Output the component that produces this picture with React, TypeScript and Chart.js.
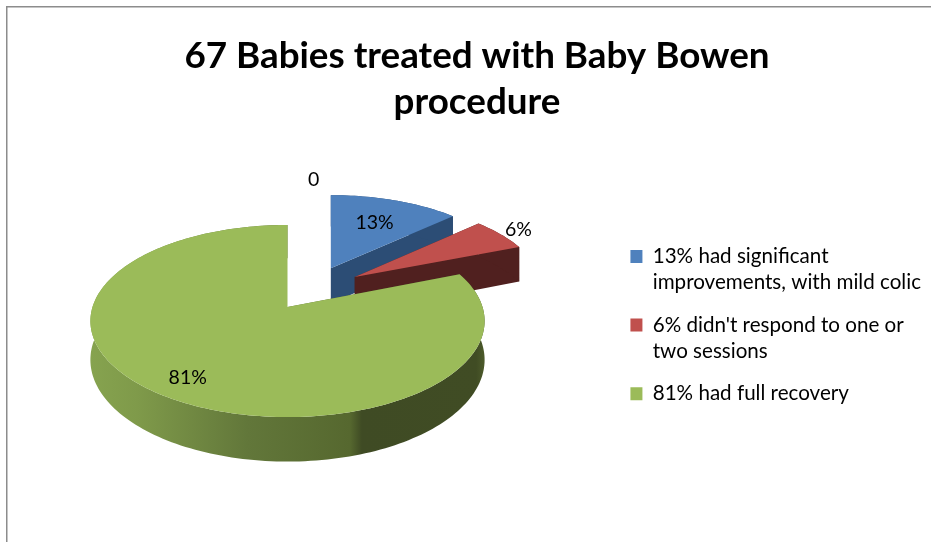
import React, { useEffect, useRef } from "react";
import { Chart, registerables } from "chart.js";

Chart.register(...registerables);

const titleLines = ["67 Babies treated with Baby Bowen", "procedure"];
const categories = ["", "13% had significant improvements, with mild colic", "6% didn't respond to one or two sessions", "81% had full recovery"];
const legendLines = [[""], ["13% had significant", "improvements, with mild colic"], ["6% didn't respond to one or", "two sessions"], ["81% had full recovery"]];
const values = [0, 13, 6, 81];
const dataLabels = ["0", "13%", "6%", "81%"];
const topColors = ["#4f81bd", "#4f81bd", "#c0504d", "#9bbb59"];
const wallColors = ["#2c4d75", "#2c4d75", "#50201f", "#5e7034"];

// View settings of the tilted pie
const VIEW = { cx: 287.5, cy: 307, a: 195, b: 94, k: 0.146, depth: 38 };
const EXPLODE = [[0.134, -0.5], [0.222, -0.44], [0.345, -0.335], [0, 0]];
const LABEL_R = [1.19, 0.65, 1.13, 0.82];
const FONT = "Lato, Carlito, sans-serif";

// (ex, ey) is the slice's pull-out, (X, Y) a point relative to the slice's tip
function project(ex: number, ey: number, X: number, Y: number, z = 0) {
  const w = 1 - VIEW.k * (ey + Y);
  return { x: VIEW.cx + VIEW.a * ex + (VIEW.a * X) / w, y: VIEW.cy + (VIEW.b * (ey + Y) + z * VIEW.depth) / w };
}

const frame = {
  id: "frame",
  beforeDraw(chart: any) {
    const { ctx, width, height } = chart;
    ctx.save();
    ctx.strokeStyle = "#8c8c8c";
    ctx.lineWidth = 1.5;
    ctx.beginPath();
    ctx.moveTo(6.75, height);
    ctx.lineTo(6.75, 6.75);
    ctx.lineTo(width, 6.75);
    ctx.stroke();
    ctx.restore();
  },
};

function fillPoly(ctx: any, pts: { x: number; y: number }[]) {
  ctx.beginPath();
  pts.forEach((p, n) => (n === 0 ? ctx.moveTo(p.x, p.y) : ctx.lineTo(p.x, p.y)));
  ctx.closePath();
  ctx.fill();
}

const pie3d = {
  id: "pie3d",
  beforeDatasetDraw(chart: any, args: any) {
    const { ctx } = chart;
    const meta = args.meta;
    ctx.save();
    const rimGrad = ctx.createLinearGradient(90, 0, 484, 0);
    rimGrad.addColorStop(0, "#86a34f");
    rimGrad.addColorStop(0.12, "#7f9a4a");
    rimGrad.addColorStop(0.4, "#62773a");
    rimGrad.addColorStop(0.66, "#56682f");
    rimGrad.addColorStop(0.69, "#3f4b24");
    rimGrad.addColorStop(0.98, "#404c24");
    rimGrad.addColorStop(1, "#4c5a2a");

    meta.data.forEach((el: any, i: number) => {
      const { startAngle, endAngle } = el.getProps(["startAngle", "endAngle"], true);
      if (endAngle - startAngle <= 0) return;
      const t0 = startAngle + Math.PI / 2;
      const t1 = endAngle + Math.PI / 2;
      const [ex, ey] = EXPLODE[i];
      const steps = Math.max(8, Math.ceil((t1 - t0) * 40));
      const rim: number[][] = [];
      for (let n = 0; n <= steps; n++) {
        const t = t0 + ((t1 - t0) * n) / steps;
        rim.push([Math.sin(t), -Math.cos(t)]);
      }
      const top = rim.map((p) => project(ex, ey, p[0], p[1]));
      const bottom = rim.map((p) => project(ex, ey, p[0], p[1], 1));
      const apex = project(ex, ey, 0, 0);
      const apexLow = project(ex, ey, 0, 0, 1);

      ctx.fillStyle = i === 3 ? rimGrad : wallColors[i];
      fillPoly(ctx, [apex, top[0], bottom[0], apexLow]);
      fillPoly(ctx, [apex, top[steps], bottom[steps], apexLow]);
      fillPoly(ctx, [...top, ...bottom.slice().reverse()]);

      ctx.fillStyle = topColors[i];
      fillPoly(ctx, [apex, ...top]);
    });

    ctx.fillStyle = "#000";
    ctx.font = `19.5px ${FONT}`;
    ctx.textAlign = "center";
    ctx.textBaseline = "middle";
    meta.data.forEach((el: any, i: number) => {
      const { startAngle, endAngle } = el.getProps(["startAngle", "endAngle"], true);
      const t = (startAngle + endAngle) / 2 + Math.PI / 2;
      const [ex, ey] = EXPLODE[i];
      const r = LABEL_R[i];
      const p = project(ex, ey, r * Math.sin(t), -r * Math.cos(t));
      ctx.fillText(dataLabels[i], p.x, p.y);
    });
    ctx.restore();
    return false;
  },
};

export default function App() {
  const ref = useRef<HTMLCanvasElement>(null);
  useEffect(() => {
    document.body.style.margin = "0";
    const chart = new Chart(ref.current!, {
      type: "pie",
      data: {
        labels: categories,
        datasets: [{ data: values, backgroundColor: topColors, borderWidth: 0 }],
      },
      options: {
        responsive: false,
        animation: false,
        layout: { padding: { left: 23, right: 0, top: 33, bottom: 21 } },
        plugins: {
          title: {
            display: true,
            text: titleLines,
            color: "#000",
            font: { family: FONT, size: 36.8, weight: "bold", lineHeight: 1.25 },
            padding: { top: 0, bottom: 10 },
          },
          tooltip: { enabled: false },
          legend: {
            position: "right",
            fullSize: false,
            labels: {
              color: "#000",
              boxWidth: 12,
              boxHeight: 13,
              padding: 16,
              font: { family: FONT, size: 20.6, lineHeight: 1.28 },
              generateLabels: () =>
                legendLines
                  .map((text, i) => ({ text, fillStyle: topColors[i], strokeStyle: topColors[i], lineWidth: 0, hidden: false, index: i, datasetIndex: 0 }))
                  .filter((_, i) => values[i] > 0) as any,
            },
          },
        },
      },
      plugins: [frame, pie3d],
    } as any);
    return () => chart.destroy();
  }, []);
  return <canvas ref={ref} width={931} height={542} style={{ display: "block" }} />;
}
